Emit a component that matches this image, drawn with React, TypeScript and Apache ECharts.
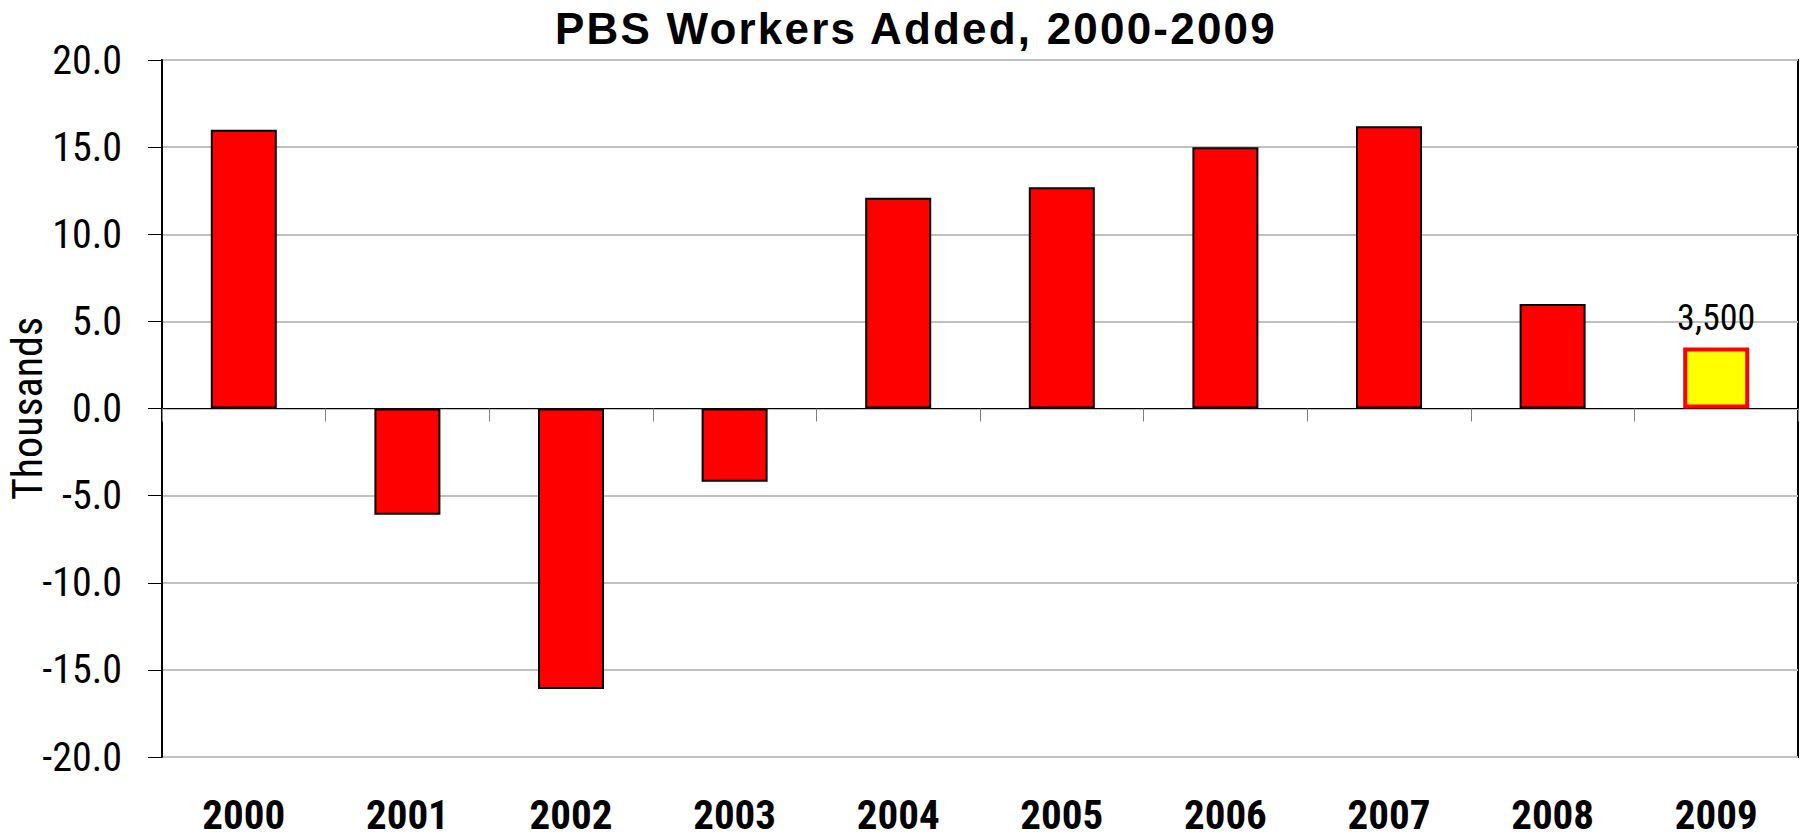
import React, { useEffect, useRef } from "react";
import * as echarts from "echarts";

const years = ["2000", "2001", "2002", "2003", "2004", "2005", "2006", "2007", "2008", "2009"];
const workersAdded = [16.0, -6.1, -16.1, -4.2, 12.1, 12.7, 15.0, 16.2, 6.0, 3.5];
const highlightedYear = "2009";
const yTicks = { min: -20, max: 20, interval: 5 };
const titleText = "PBS Workers Added, 2000-2009";
const yName = "Thousands";

const NARROW = "Roboto, 'DejaVu Sans Condensed', sans-serif";
const TITLE_FONT = "'Liberation Sans', Arial, sans-serif";

const css = `
svg text[font-family*="Roboto"], svg text[style*="Roboto"], svg tspan[style*="Roboto"] { font-stretch: 75% !important; }
svg text[font-family*="Liberation"], svg text[style*="Liberation"] { letter-spacing: 2.2px !important; }
`;

export default function App() {
  const ref = useRef<HTMLDivElement>(null);
  useEffect(() => {
    if (!ref.current) return;
    const chart = echarts.init(ref.current, null, { renderer: "svg" });
    const data = workersAdded.map((v, i) => {
      if (years[i] === highlightedYear) {
        return {
          value: v,
          itemStyle: { color: "#ffff00", borderColor: "#ff0000", borderWidth: 4 },
          label: {
            show: true,
            position: "top",
            distance: 12,
            formatter: (p: any) => Math.round(p.value * 1000).toLocaleString("en-US"),
            fontFamily: NARROW,
            fontSize: 36,
            color: "#000",
          },
        };
      }
      return { value: v };
    });
    chart.setOption({
      animation: false,
      backgroundColor: "#ffffff",
      title: {
        text: titleText,
        left: 555,
        top: 6,
        padding: 0,
        textStyle: { fontFamily: TITLE_FONT, fontWeight: "bold", fontSize: 44, color: "#000" },
      },
      grid: {
        left: 162,
        right: 6,
        top: 60,
        bottom: 82,
        show: true,
        borderColor: "#000",
        borderWidth: 2,
        backgroundColor: "transparent",
        containLabel: false,
        outerBoundsMode: "none",
      },
      xAxis: [
        {
          type: "category",
          data: years,
          position: "bottom",
          axisLine: { show: false, onZero: false },
          axisTick: { show: false },
          axisLabel: {
            interval: 0,
            fontFamily: NARROW,
            fontWeight: "bold",
            fontSize: 41,
            lineHeight: 34,
            color: "#000",
            margin: 41,
          },
          splitLine: { show: false },
        },
        {
          type: "category",
          data: years,
          position: "bottom",
          axisLine: { show: true, onZero: true, lineStyle: { color: "#000", width: 1 } },
          axisTick: { show: true, length: 13, lineStyle: { color: "#808080", width: 1 } },
          axisLabel: { show: false },
          splitLine: { show: false },
        },
      ],
      yAxis: {
        type: "value",
        min: yTicks.min,
        max: yTicks.max,
        interval: yTicks.interval,
        name: yName,
        nameLocation: "middle",
        nameRotate: 90,
        nameGap: 114,
        nameMoveOverlap: false,
        nameTextStyle: { fontFamily: NARROW, fontSize: 42, color: "#000" },
        axisLine: { show: true, lineStyle: { color: "#000", width: 2 } },
        axisTick: { show: true, length: 14, lineStyle: { color: "#000", width: 1 } },
        axisLabel: {
          fontFamily: NARROW,
          fontSize: 40,
          color: "#000",
          margin: 40,
          formatter: (v: number) => v.toFixed(1),
        },
        splitLine: { show: true, lineStyle: { color: "#c0c0c0", width: 2 } },
      },
      series: [
        {
          type: "bar",
          xAxisIndex: 0,
          data,
          barWidth: 66,
          itemStyle: { color: "#ff0000", borderColor: "#000", borderWidth: 2 },
          z: 3,
        },
      ],
    });
    return () => chart.dispose();
  }, []);
  return (
    <>
      <style>{css}</style>
      <div
        ref={ref}
        style={{ position: "fixed", left: 0, top: 0, width: 1804, height: 839, background: "#fff" }}
      />
    </>
  );
}
